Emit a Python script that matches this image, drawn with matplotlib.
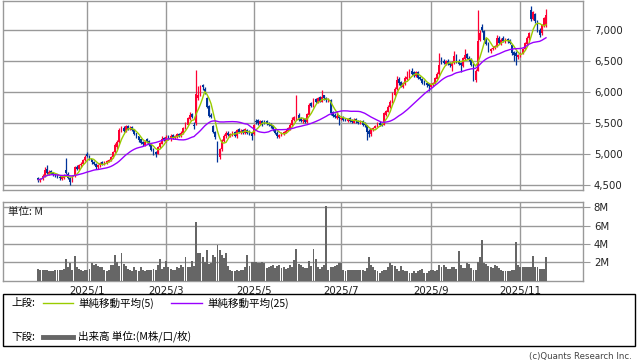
import matplotlib
matplotlib.use('Agg')
import matplotlib.pyplot as plt
from matplotlib.patches import Rectangle
from matplotlib.lines import Line2D
import numpy as np
import pandas as pd

# daily candles (yen)
O = [4620, 4570, 4600, 4650, 4760, 4690, 4730, 4700, 4690, 4670,
     4640, 4600, 4620, 4740, 4690, 4620, 4570, 4650, 4800, 4760,
     4820, 4850, 4900, 5010, 4980, 4920, 4870, 4840, 4790, 4820,
     4870, 4830, 4860, 4880, 4900, 4950, 5030, 5120, 5200, 5380,
     5430, 5370, 5460, 5400, 5440, 5400, 5340, 5290, 5240, 5200,
     5150, 5240, 5220, 5160, 5080, 5040, 5010, 5110, 5170, 5260,
     5220, 5290, 5240, 5310, 5260, 5280, 5330, 5290, 5340, 5410,
     5480, 5570, 5650, 5480, 5500, 5900, 5960, 6110, 6060, 5900,
     5780, 5640, 5450, 5360, 5200, 4950, 5080, 5220, 5290, 5350,
     5300, 5320, 5360, 5290, 5400, 5350, 5390, 5340, 5390, 5370,
     5340, 5320, 5540, 5550, 5490, 5540, 5540, 5530, 5500, 5490,
     5450, 5410, 5350, 5280, 5300, 5330, 5350, 5380, 5400, 5470,
     5550, 5580, 5640, 5580, 5530, 5570, 5520, 5640, 5820, 5770,
     5890, 5830, 5920, 5850, 5950, 5910, 5860, 5870, 5680, 5640,
     5590, 5630, 5570, 5600, 5570, 5540, 5580, 5550, 5510, 5570,
     5540, 5500, 5530, 5500, 5470, 5380, 5320, 5390, 5430, 5450,
     5510, 5490, 5480, 5640, 5690, 5760, 5850, 5960, 6060, 6220,
     6160, 6090, 6140, 6220, 6240, 6350, 6320, 6270, 6320, 6250,
     6210, 6170, 6150, 6130, 6090, 6120, 6140, 6220, 6290, 6520,
     6500, 6460, 6510, 6470, 6430, 6470, 6590, 6510, 6470, 6430,
     6540, 6610, 6560, 6530, 6450, 6200, 6350, 6840, 7050, 6990,
     6860, 6790, 6660, 6700, 6710, 6750, 6880, 6790, 6880, 6820,
     6860, 6840, 6760, 6650, 6640, 6570, 6590, 6640, 6700, 6780,
     6870, 7330, 7180, 7260, 7140, 7010, 6950, 7080, 7080]
H = [4640, 4620, 4680, 4790, 4830, 4740, 4750, 4720, 4700, 4690,
     4660, 4650, 4680, 4940, 4710, 4640, 4660, 4810, 4830, 4850,
     4870, 4920, 4990, 5030, 4990, 4930, 4890, 4860, 4850, 4880,
     4890, 4890, 4910, 4930, 4980, 5060, 5180, 5230, 5420, 5450,
     5450, 5470, 5480, 5450, 5460, 5410, 5350, 5300, 5250, 5220,
     5230, 5260, 5230, 5170, 5100, 5060, 5140, 5200, 5290, 5280,
     5310, 5310, 5320, 5330, 5310, 5340, 5350, 5370, 5440, 5520,
     5600, 5680, 5670, 5520, 6360, 6100, 6120, 6140, 6080, 5920,
     5800, 5660, 5470, 5380, 5220, 5100, 5250, 5320, 5380, 5370,
     5350, 5370, 5380, 5410, 5420, 5400, 5410, 5420, 5410, 5390,
     5360, 5490, 5570, 5570, 5560, 5560, 5560, 5550, 5520, 5510,
     5470, 5430, 5370, 5330, 5360, 5380, 5400, 5440, 5500, 5600,
     5620, 5960, 5660, 5600, 5580, 5590, 5670, 5830, 5840, 5900,
     5910, 5920, 5940, 6040, 5960, 5920, 5900, 5890, 5700, 5660,
     5700, 5640, 5610, 5620, 5590, 5590, 5600, 5570, 5580, 5590,
     5560, 5550, 5550, 5520, 5480, 5400, 5420, 5440, 5480, 5520,
     5530, 5510, 5690, 5720, 5800, 5870, 6010, 6080, 6260, 6240,
     6180, 6170, 6260, 6350, 6370, 6390, 6340, 6350, 6340, 6270,
     6230, 6190, 6170, 6150, 6150, 6170, 6250, 6320, 6630, 6570,
     6530, 6520, 6530, 6490, 6500, 6660, 6610, 6530, 6490, 6570,
     6690, 6630, 6580, 6550, 6460, 6380, 7330, 7000, 7100, 7010,
     6880, 6810, 6710, 6740, 6760, 6930, 6900, 6880, 6900, 6870,
     6880, 6860, 6780, 6670, 6660, 6620, 6650, 6720, 6810, 6900,
     6980, 7390, 7310, 7280, 7160, 7030, 7100, 7220, 7340]
L = [4550, 4560, 4590, 4640, 4680, 4670, 4680, 4650, 4640, 4620,
     4590, 4580, 4600, 4680, 4600, 4500, 4550, 4640, 4740, 4750,
     4800, 4840, 4890, 4950, 4910, 4850, 4820, 4770, 4770, 4800,
     4820, 4820, 4850, 4870, 4890, 4940, 5020, 5090, 5190, 5360,
     5360, 5360, 5390, 5390, 5380, 5310, 5260, 5200, 5170, 5130,
     5130, 5190, 5130, 5050, 4990, 4960, 5000, 5100, 5160, 5210,
     5200, 5230, 5220, 5250, 5240, 5260, 5280, 5280, 5330, 5400,
     5470, 5560, 5580, 5400, 5480, 5880, 5940, 6030, 5980, 5740,
     5600, 5580, 5340, 5250, 4880, 4930, 5060, 5200, 5270, 5290,
     5280, 5300, 5280, 5270, 5340, 5330, 5330, 5330, 5320, 5310,
     5230, 5310, 5490, 5480, 5470, 5460, 5490, 5470, 5450, 5420,
     5380, 5320, 5260, 5260, 5290, 5310, 5340, 5370, 5390, 5450,
     5530, 5560, 5540, 5520, 5510, 5500, 5510, 5630, 5760, 5760,
     5820, 5820, 5840, 5840, 5880, 5850, 5850, 5640, 5600, 5580,
     5570, 5480, 5550, 5540, 5530, 5520, 5520, 5500, 5500, 5510,
     5490, 5490, 5460, 5440, 5230, 5280, 5300, 5380, 5420, 5440,
     5460, 5450, 5470, 5620, 5680, 5740, 5830, 5940, 6040, 6120,
     6080, 6070, 6120, 6200, 6230, 6280, 6250, 6250, 6210, 6190,
     6130, 6110, 6080, 6020, 6070, 6100, 6130, 6210, 6280, 6450,
     6450, 6440, 6440, 6400, 6350, 6450, 6480, 6440, 6330, 6410,
     6520, 6530, 6500, 6420, 6180, 6170, 6340, 6820, 6970, 6830,
     6760, 6650, 6640, 6680, 6690, 6730, 6780, 6770, 6810, 6800,
     6800, 6780, 6600, 6500, 6440, 6540, 6570, 6620, 6680, 6760,
     6850, 7150, 7160, 7120, 6980, 6890, 6930, 7060, 7060]
C = [4590, 4600, 4650, 4740, 4700, 4720, 4690, 4680, 4660, 4640,
     4610, 4630, 4650, 4700, 4620, 4560, 4640, 4790, 4760, 4830,
     4850, 4900, 4960, 4980, 4930, 4870, 4850, 4800, 4830, 4860,
     4840, 4870, 4890, 4910, 4960, 5040, 5150, 5200, 5390, 5420,
     5380, 5450, 5400, 5430, 5390, 5330, 5280, 5230, 5190, 5160,
     5200, 5210, 5150, 5070, 5030, 5000, 5120, 5180, 5250, 5230,
     5280, 5250, 5300, 5270, 5290, 5320, 5300, 5350, 5420, 5500,
     5580, 5640, 5600, 5450, 5980, 5950, 6050, 6080, 6000, 5770,
     5620, 5600, 5360, 5280, 5010, 5080, 5230, 5300, 5340, 5310,
     5330, 5350, 5300, 5390, 5360, 5380, 5350, 5400, 5340, 5330,
     5300, 5470, 5520, 5500, 5530, 5480, 5510, 5490, 5470, 5450,
     5400, 5340, 5290, 5310, 5340, 5360, 5380, 5420, 5480, 5560,
     5600, 5660, 5560, 5540, 5560, 5520, 5650, 5800, 5780, 5880,
     5840, 5900, 5860, 5930, 5900, 5870, 5880, 5660, 5620, 5600,
     5620, 5580, 5590, 5560, 5550, 5570, 5540, 5520, 5560, 5530,
     5510, 5530, 5480, 5470, 5360, 5330, 5400, 5420, 5460, 5500,
     5480, 5470, 5660, 5700, 5770, 5850, 5980, 6050, 6200, 6150,
     6100, 6150, 6230, 6250, 6330, 6300, 6280, 6330, 6230, 6220,
     6150, 6140, 6120, 6100, 6130, 6150, 6230, 6300, 6440, 6490,
     6470, 6500, 6460, 6440, 6480, 6580, 6500, 6460, 6440, 6550,
     6600, 6550, 6520, 6440, 6250, 6350, 6820, 6950, 7000, 6850,
     6780, 6680, 6690, 6720, 6740, 6870, 6800, 6850, 6830, 6850,
     6820, 6800, 6630, 6600, 6580, 6600, 6630, 6700, 6790, 6870,
     6950, 7180, 7290, 7150, 7000, 6920, 7080, 7200, 7250]

# volume, millions of shares
VOL = [1.3, 1.2, 1.2, 1.1, 1.2, 1.0, 1.0, 1.0, 1.1, 1.1,
       1.2, 1.1, 1.3, 2.4, 1.5, 1.9, 1.2, 2.7, 1.5, 1.3,
       1.1, 1.0, 1.2, 1.1, 1.3, 1.9, 1.7, 1.8, 1.6, 1.5,
       1.5, 1.2, 1.0, 1.1, 1.7, 1.7, 2.8, 2.0, 1.6, 3.0,
       1.8, 1.6, 1.3, 1.1, 1.0, 1.5, 1.2, 1.0, 1.5, 1.2,
       1.0, 1.1, 1.2, 1.1, 1.3, 1.2, 1.7, 2.3, 1.3, 1.5,
       2.1, 1.5, 1.3, 1.2, 1.1, 1.5, 1.4, 1.7, 1.5, 2.6,
       1.5, 1.5, 2.1, 1.6, 6.4, 3.0, 3.0, 2.6, 2.0, 3.35,
       1.8, 1.9, 2.8, 2.6, 3.9, 3.35, 2.8, 2.5, 3.0, 1.6,
       1.1, 1.0, 1.0, 1.1, 1.0, 1.2, 1.2, 1.5, 2.8, 1.6,
       2.0, 2.0, 2.0, 1.9, 1.9, 2.0, 1.9, 1.4, 1.5, 1.6,
       1.7, 1.4, 1.6, 1.7, 1.4, 1.5, 1.3, 1.4, 1.7, 1.5,
       2.2, 3.45, 1.8, 1.7, 1.5, 1.4, 1.4, 2.1, 1.6, 3.45,
       2.3, 1.5, 1.3, 1.5, 1.7, 8.1, 1.2, 1.5, 1.5, 1.6,
       1.7, 1.9, 1.9, 1.2, 1.0, 1.2, 1.2, 1.1, 1.2, 1.2,
       1.2, 1.2, 1.1, 1.0, 1.4, 2.6, 1.7, 1.5, 1.2, 1.0,
       0.8, 1.0, 1.2, 1.2, 1.5, 1.9, 1.7, 1.6, 1.3, 1.0,
       1.6, 1.2, 1.0, 1.0, 0.8, 0.8, 1.0, 0.8, 1.0, 1.2,
       1.3, 0.8, 0.8, 1.0, 1.2, 1.1, 1.0, 1.2, 1.7, 1.5,
       1.7, 1.5, 1.3, 1.3, 1.5, 1.5, 1.3, 3.2, 1.7, 1.4,
       1.4, 1.9, 1.8, 1.4, 1.2, 1.2, 2.0, 2.6, 4.4, 1.9,
       1.8, 1.6, 1.5, 1.4, 1.7, 1.6, 1.4, 1.2, 1.0, 1.0,
       1.0, 1.0, 1.2, 1.2, 4.25, 1.7, 1.5, 1.5, 1.5, 1.5,
       1.5, 1.5, 2.7, 1.5, 1.5, 1.3, 1.3, 1.3, 2.6]

# TSE holidays in the period
JP_HOLIDAYS = ['2024-12-31', '2025-01-01', '2025-01-02', '2025-01-03', '2025-01-13',
               '2025-02-11', '2025-02-24', '2025-03-20', '2025-04-29', '2025-05-05',
               '2025-05-06', '2025-07-21', '2025-08-11', '2025-09-15', '2025-09-23',
               '2025-10-13', '2025-11-03']
MONTHS = ['2025-01', '2025-03', '2025-05', '2025-07', '2025-09', '2025-11']
PRICE_TICKS = [4500, 5000, 5500, 6000, 6500, 7000]
VOL_TICKS = [2, 4, 6, 8]

UP = '#ff0033'
DOWN = '#003399'
MA5_C = '#99cc00'
MA25_C = '#9900ff'
GRID = '#999999'
VOL_C = '#666666'
JP = ['Noto Sans CJK JP', 'DejaVu Sans']

o, h, l, c = np.array(O), np.array(H), np.array(L), np.array(C)
n = len(c)
x = np.arange(n)
dates = pd.bdate_range('2024-11-28', '2025-12-31', freq='C', holidays=JP_HOLIDAYS)[:n]
tick_x = [int(np.searchsorted(dates, pd.Timestamp(m))) for m in MONTHS]
tick_lab = [f"{pd.Timestamp(m).year}/{pd.Timestamp(m).month}" for m in MONTHS]

ma5 = pd.Series(c).rolling(5, min_periods=1).mean()
ma25 = pd.Series(c).rolling(25, min_periods=1).mean()

W, Hpx = 638, 362
fig = plt.figure(figsize=(W / 100, Hpx / 100), dpi=100)

def rect(x0, y0, x1, y1):
    return [x0 / W, 1 - y1 / Hpx, (x1 - x0) / W, (y1 - y0) / Hpx]

def fx(px): return px / W
def fy(py): return 1 - py / Hpx

ax = fig.add_axes(rect(3.3, 0.7, 582.7, 190))
axv = fig.add_axes(rect(3.3, 201.7, 582.7, 280.5))
xlim = (-16.4, 255.2)

# --- price panel
up = c >= o
col = np.where(up, UP, DOWN)
ax.vlines(x, l, h, colors=col, linewidth=0.9, zorder=3)
ax.bar(x, np.maximum(np.abs(c - o), 10), bottom=np.minimum(o, c), width=0.8,
       color=col, linewidth=0, zorder=3)
ax.plot(x, ma5, color=MA5_C, linewidth=1.0, zorder=4)
ax.plot(x, ma25, color=MA25_C, linewidth=1.0, zorder=4)
ax.set_xlim(*xlim)
ax.set_ylim(4424, 7477)
ax.set_yticks(PRICE_TICKS)
ax.set_yticklabels([f"{v:,}" for v in PRICE_TICKS])
ax.set_xticks(tick_x)
ax.set_xticklabels([])
ax.yaxis.tick_right()
ax.tick_params(axis='y', length=5, width=0.8, color=GRID, pad=3, labelsize=7.3, labelcolor='#222222')
ax.tick_params(axis='x', length=0)
ax.grid(True, color=GRID, linewidth=1.0)
ax.set_axisbelow(True)
for s in ax.spines.values():
    s.set_color(GRID)
    s.set_linewidth(1.0)

# --- volume panel
axv.bar(x, VOL, width=0.9, color=VOL_C, linewidth=0, zorder=3)
axv.set_xlim(*xlim)
axv.set_ylim(0, 8.62)
axv.set_yticks(VOL_TICKS)
axv.set_yticklabels([f"{v}M" for v in VOL_TICKS])
axv.yaxis.tick_right()
axv.tick_params(axis='y', length=5, width=0.8, color=GRID, pad=3, labelsize=7.3, labelcolor='#222222')
axv.set_xticks(tick_x)
axv.set_xticklabels(tick_lab)
axv.tick_params(axis='x', length=0, pad=4, labelsize=7.4, labelcolor='#222222')
axv.grid(True, color=GRID, linewidth=1.0)
axv.set_axisbelow(True)
for s in axv.spines.values():
    s.set_color(GRID)
    s.set_linewidth(1.0)
axv.text(0.008, 0.93, '単位: M', transform=axv.transAxes, family=JP, fontsize=7.6,
         ha='left', va='top', color='#222222')

# --- legend box under the chart
fig.patches.append(Rectangle((fx(3.3), fy(346)), fx(635) - fx(3.3), fy(294) - fy(346),
                             transform=fig.transFigure, fill=False, edgecolor='black', linewidth=1.0))
fig.text(fx(11), fy(303), '上段:', family=JP, fontsize=7.6, va='center', ha='left')
fig.lines.append(Line2D([fx(43), fx(73)], [fy(303)] * 2, color=MA5_C, linewidth=1.0, transform=fig.transFigure))
fig.text(fx(78), fy(303), '単純移動平均(5)', family=JP, fontsize=7.6, va='center', ha='left')
fig.lines.append(Line2D([fx(171), fx(202)], [fy(303)] * 2, color=MA25_C, linewidth=1.0, transform=fig.transFigure))
fig.text(fx(207), fy(303), '単純移動平均(25)', family=JP, fontsize=7.6, va='center', ha='left')
fig.text(fx(11), fy(336.5), '下段:', family=JP, fontsize=7.6, va='center', ha='left')
fig.lines.append(Line2D([fx(43), fx(73)], [fy(336.5)] * 2, color=VOL_C, linewidth=3.5, transform=fig.transFigure))
fig.text(fx(78), fy(336.5), '出来高 単位:(M株/口/枚)', family=JP, fontsize=7.6, va='center', ha='left')

fig.text(fx(632), fy(356.5), '(c)Quants Research Inc.', fontsize=6.2, color='#444444', ha='right', va='center')

fig.savefig('out.png', dpi=100)
